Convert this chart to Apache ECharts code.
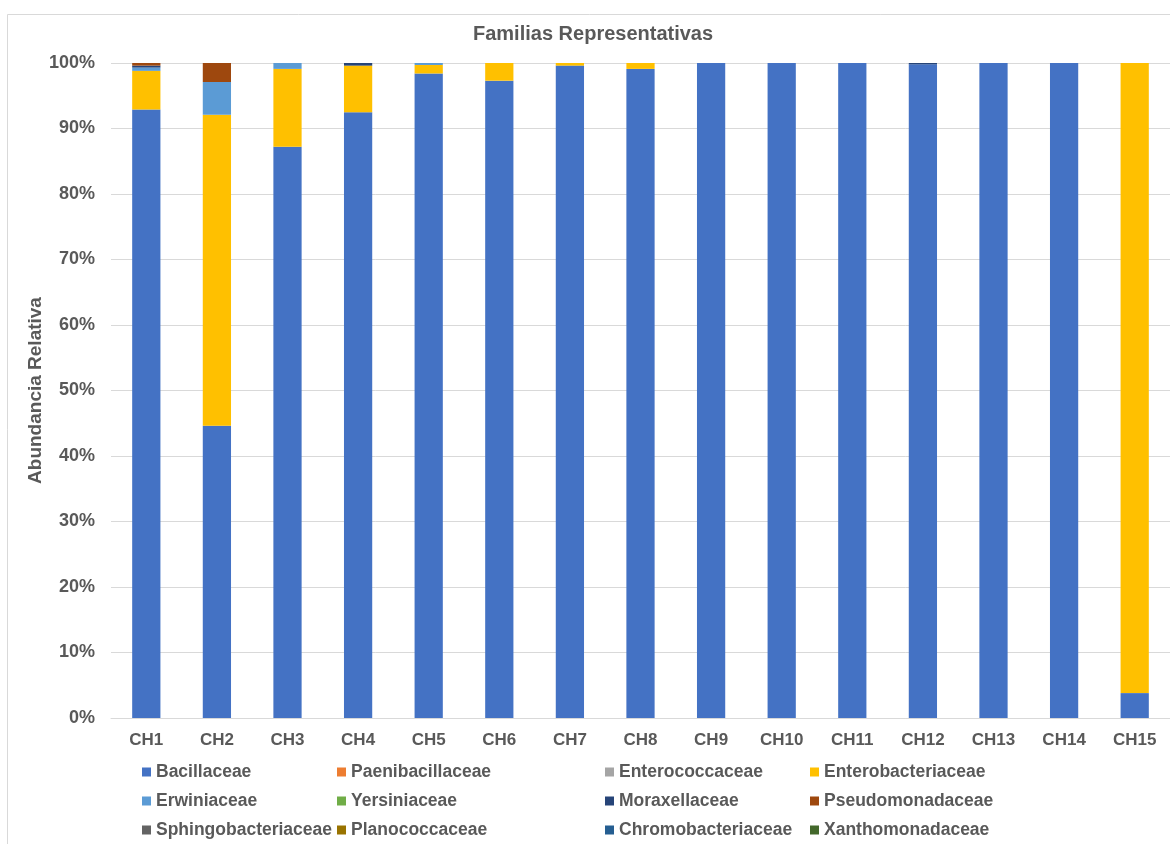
<!DOCTYPE html>
<html>
<head>
<meta charset="utf-8">
<title>Familias Representativas</title>
<script src="https://cdn.jsdelivr.net/npm/echarts@6/dist/echarts.min.js"></script>
<style>
  html, body { margin: 0; padding: 0; background: #ffffff; }
  #chart { width: 1170px; height: 844px; }
</style>
</head>
<body>
<div id="chart"></div>
<script>
// Sample names
const categories = ['CH1','CH2','CH3','CH4','CH5','CH6','CH7','CH8','CH9','CH10','CH11','CH12','CH13','CH14','CH15'];

// Relative abundance per family (%), one value per sample
const bacillaceae         = [92.9, 44.6, 87.2, 92.5, 98.4, 97.3, 99.6, 99.1, 100, 100, 100, 99.8, 100, 100, 3.8];
const paenibacillaceae    = [0, 0, 0, 0, 0, 0, 0, 0, 0, 0, 0, 0, 0, 0, 0];
const enterococcaceae     = [0, 0, 0, 0, 0, 0, 0, 0, 0, 0, 0, 0, 0, 0, 0];
const enterobacteriaceae  = [5.9, 47.5, 11.9, 7.1, 1.3, 2.7, 0.4, 0.9, 0, 0, 0, 0, 0, 0, 96.2];
const erwiniaceae         = [0.5, 5.0, 0.9, 0, 0.3, 0, 0, 0, 0, 0, 0, 0, 0, 0, 0];
const yersiniaceae        = [0, 0, 0, 0, 0, 0, 0, 0, 0, 0, 0, 0, 0, 0, 0];
const moraxellaceae       = [0.3, 0, 0, 0.4, 0, 0, 0, 0, 0, 0, 0, 0.2, 0, 0, 0];
const pseudomonadaceae    = [0.4, 2.9, 0, 0, 0, 0, 0, 0, 0, 0, 0, 0, 0, 0, 0];
const sphingobacteriaceae = [0, 0, 0, 0, 0, 0, 0, 0, 0, 0, 0, 0, 0, 0, 0];
const planococcaceae      = [0, 0, 0, 0, 0, 0, 0, 0, 0, 0, 0, 0, 0, 0, 0];
const chromobacteriaceae  = [0, 0, 0, 0, 0, 0, 0, 0, 0, 0, 0, 0, 0, 0, 0];
const xanthomonadaceae    = [0, 0, 0, 0, 0, 0, 0, 0, 0, 0, 0, 0, 0, 0, 0];

const families = [
  ['Bacillaceae',         bacillaceae,         '#4472C4'],
  ['Paenibacillaceae',    paenibacillaceae,    '#ED7D31'],
  ['Enterococcaceae',     enterococcaceae,     '#A5A5A5'],
  ['Enterobacteriaceae',  enterobacteriaceae,  '#FFC000'],
  ['Erwiniaceae',         erwiniaceae,         '#5B9BD5'],
  ['Yersiniaceae',        yersiniaceae,        '#70AD47'],
  ['Moraxellaceae',       moraxellaceae,       '#264478'],
  ['Pseudomonadaceae',    pseudomonadaceae,    '#9E480E'],
  ['Sphingobacteriaceae', sphingobacteriaceae, '#636363'],
  ['Planococcaceae',      planococcaceae,      '#997300'],
  ['Chromobacteriaceae',  chromobacteriaceae,  '#255E91'],
  ['Xanthomonadaceae',    xanthomonadaceae,    '#43682B']
];

const FONT = '"Liberation Sans", Arial, sans-serif';
const TEXT = '#595959';

// Legend laid out as 4 columns x 3 rows, read row by row
const columnLeft = [142, 337, 605, 810];
const legends = columnLeft.map((left, col) => ({
  orient: 'vertical',
  left: left,
  top: 762,
  height: 82,
  padding: 0,
  itemWidth: 9,
  itemHeight: 9,
  itemGap: 9,
  icon: 'rect',
  selectedMode: false,
  textStyle: { fontFamily: FONT, fontSize: 17.5, fontWeight: 'bold', color: TEXT, lineHeight: 20 },
  data: [0, 1, 2].map(row => families[row * 4 + col][0])
}));

const chart = echarts.init(document.getElementById('chart'), null, { renderer: 'canvas' });

chart.setOption({
  backgroundColor: '#ffffff',
  animation: false,
  title: {
    text: 'Familias Representativas',
    left: 473,
    top: 24,
    padding: 0,
    textStyle: { fontFamily: FONT, fontSize: 20, fontWeight: 'bold', color: TEXT }
  },
  graphic: [{
    type: 'rect',
    shape: { x: 7.5, y: 14.5, width: 1200, height: 900 },
    style: { fill: 'none', stroke: '#d9d9d9', lineWidth: 1 },
    silent: true,
    z: -1
  }],
  legend: legends,
  grid: { left: 111, right: -1, top: 63, bottom: 126, containLabel: false },
  xAxis: {
    type: 'category',
    data: categories,
    axisTick: { show: false },
    axisLine: { show: true, lineStyle: { color: '#d9d9d9', width: 1 } },
    axisLabel: { fontFamily: FONT, fontSize: 17, fontWeight: 'bold', color: TEXT, margin: 14 }
  },
  yAxis: {
    type: 'value',
    min: 0,
    max: 100,
    interval: 10,
    name: 'Abundancia Relativa',
    nameLocation: 'middle',
    nameGap: 66,
    nameMoveOverlap: false,
    nameTextStyle: { fontFamily: FONT, fontSize: 19, fontWeight: 'bold', color: TEXT },
    axisLine: { show: false },
    axisTick: { show: false },
    splitLine: { lineStyle: { color: '#d9d9d9', width: 1 } },
    axisLabel: {
      formatter: '{value}%',
      fontFamily: FONT, fontSize: 18, fontWeight: 'bold', color: TEXT, margin: 16
    }
  },
  series: families.map(([name, values, color]) => ({
    name: name,
    type: 'bar',
    stack: 'total',
    barWidth: '40%',
    data: values,
    itemStyle: { color: color },
    emphasis: { disabled: true }
  }))
});
</script>
</body>
</html>
